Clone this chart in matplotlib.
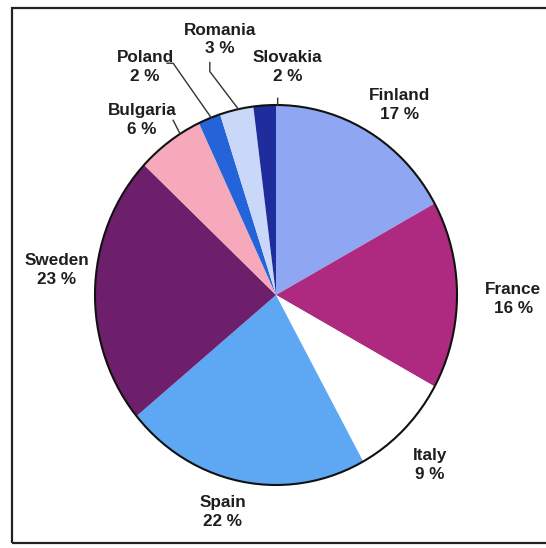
import matplotlib.pyplot as plt
import numpy as np
from matplotlib.patches import Circle, Rectangle

# --- data ---
countries = ["Finland", "France", "Italy", "Spain", "Sweden",
             "Bulgaria", "Poland", "Romania", "Slovakia"]
shares = [17, 16, 9, 22, 23, 6, 2, 3, 2]
colors = ["#8fa7f2", "#ae2a80", "#ffffff", "#5ea7f2", "#6d1f6c",
          "#f6a9bb", "#2564d8", "#c9d8f8", "#1f2c9c"]

# label placement: (radius factor, angle nudge in degrees)
label_pos = [(1.21, -3.8), (1.31, -1.0), (1.235, -1.4), (1.18, -3.6),
             (1.22, -4.4), (1.18, 2.8), (1.40, 9.5), (1.38, 0.4),
             (1.20, -6.7)]

W, H = 546, 548
CX, CY = 276, 295      # pie centre in pixels
RX, RY = 181, 190      # pie radii in pixels (slightly oval scan)

plt.rcParams["font.family"] = ["Liberation Sans", "DejaVu Sans"]

fig = plt.figure(figsize=(W / 100, H / 100), dpi=100)
ax = fig.add_axes([0, 0, 1, 1])

ax.pie(shares, colors=colors, startangle=90, counterclock=False,
       wedgeprops=dict(linewidth=0, edgecolor="none"))
ax.set_aspect("auto")
ax.set_xlim(-CX / RX, (W - CX) / RX)
ax.set_ylim(-(H - CY) / RY, CY / RY)
ax.axis("off")
ax.add_patch(Circle((0, 0), 1.0, fill=False, edgecolor="#111111", linewidth=1.5))

# labels
cum = np.cumsum([0] + shares[:-1])
mids = 90 - (cum + np.array(shares) / 2) * 3.6
label_xy = []
for name, val, mid, (rf, nudge) in zip(countries, shares, mids, label_pos):
    a = np.deg2rad(mid + nudge)
    x, y = rf * np.cos(a), rf * np.sin(a)
    label_xy.append((x, y))
    ax.text(x, y, f"{name}\n{val} %", ha="center", va="center",
            fontsize=12.3, fontweight="bold", color="#1e1e1e", linespacing=1.32)

# leader lines: label index, pixel offsets of the path from the label, rim angle
leaders = [
    (5, [(31, 0)], 122),
    (6, [(22, -4), (28, -4)], 111),
    (7, [(-10, 23), (-10, 32)], 102),
    (8, [(-10, 31)], 89.5),
]
for idx, offs, ang in leaders:
    lx, ly = label_xy[idx]
    xs = [lx + dx / RX for dx, dy in offs]
    ys = [ly - dy / RY for dx, dy in offs]
    xs.append(np.cos(np.deg2rad(ang)))
    ys.append(np.sin(np.deg2rad(ang)))
    ax.plot(xs, ys, color="#333333", linewidth=1.0)

# outer frame of the scanned chart
fig.add_artist(Rectangle((12 / W, 5 / H), 1.0, (543 - 8) / H,
                         transform=fig.transFigure, fill=False,
                         edgecolor="#222222", linewidth=1.6))

fig.savefig("out.png", dpi=100)
